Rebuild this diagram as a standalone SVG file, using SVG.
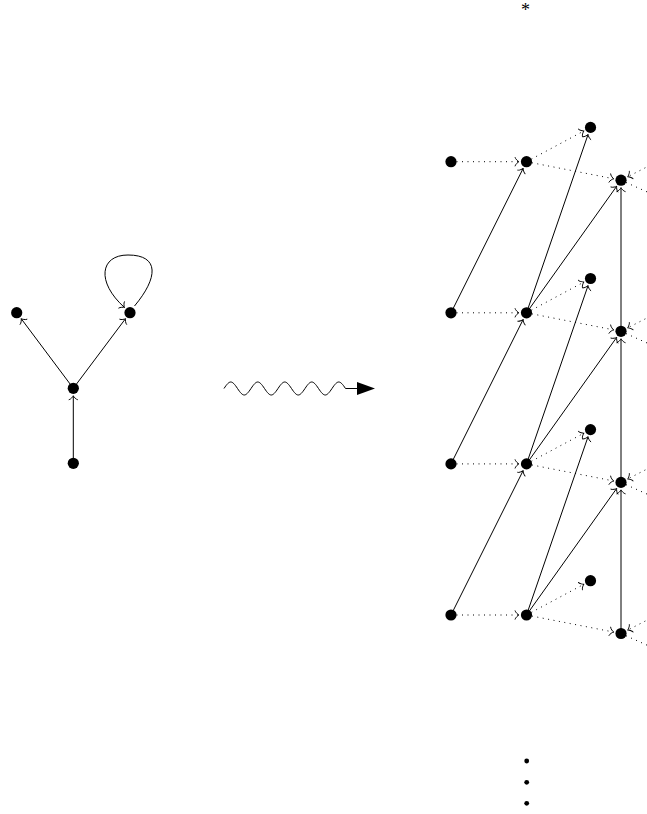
<svg xmlns="http://www.w3.org/2000/svg" width="647" height="814" viewBox="0 0 647 814">
<style>
.edge{fill:none;stroke:#000;stroke-width:1}
.dot{fill:none;stroke:#000;stroke-width:1;stroke-dasharray:1 4.5}
.node{fill:#000}
.ar{marker-end:url(#to)}
</style>
<defs>
<marker id="to" markerUnits="userSpaceOnUse" markerWidth="12" markerHeight="12" viewBox="-6 -6 12 12" refX="0" refY="0" orient="auto" overflow="visible">
<path d="M -3.94 4.2 C -3.68 2.63 -0.79 0.26 0 0 C -0.79 -0.26 -3.68 -2.63 -3.94 -4.2" fill="none" stroke="#000" stroke-width="0.9" stroke-dasharray="none" stroke-linecap="round" stroke-linejoin="round"/>
</marker>
</defs>
<rect width="647" height="814" fill="#fff"/>
<g id="connectors">
<path class="edge ar" d="M73.3 463.3 L73.3 395.8"/>
<path class="edge ar" d="M73.3 388.3 L21.2 318.7"/>
<path class="edge ar" d="M73.3 388.3 L125.5 318.7"/>
<path class="edge ar" d="M134.5 306 C158 278 160 255 128 255 C100 255 96 282 124.5 307.5"/>
<path class="edge" d="M224 388.5 c5.73 -8.67 7.77 -8.67 13.5 0 c5.73 8.67 7.77 8.67 13.5 0 c5.73 -8.67 7.77 -8.67 13.5 0 c5.73 8.67 7.77 8.67 13.5 0 c5.73 -8.67 7.77 -8.67 13.5 0 c5.73 8.67 7.77 8.67 13.5 0 c5.73 -8.67 7.77 -8.67 13.5 0 c5.73 8.67 7.77 8.67 13.5 0 c5.73 -8.67 7.77 -8.67 13.5 0 H358"/>
<path d="M357 382 L375 388.5 L357 395 Z" fill="#000"/>
<path class="dot ar" d="M451 161.7 H519"/>
<path class="dot ar" d="M451 312.8 H519"/>
<path class="dot ar" d="M451 463.9 H519"/>
<path class="dot ar" d="M451 615 H519"/>
<path class="dot ar" d="M526.5 161.7 L583.9 130.94"/>
<path class="dot ar" d="M526.5 312.8 L583.9 282.04"/>
<path class="dot ar" d="M526.5 463.9 L583.9 433.14"/>
<path class="dot ar" d="M526.5 615 L583.9 584.24"/>
<path class="dot ar" d="M526.5 161.7 L613.64 178.76"/>
<path class="dot ar" d="M526.5 312.8 L613.64 329.86"/>
<path class="dot ar" d="M526.5 463.9 L613.64 480.96"/>
<path class="dot ar" d="M526.5 615 L613.64 632.06"/>
<path class="dot ar" d="M660 160.2 L627.68 176.78"/>
<path class="dot ar" d="M660 311.3 L627.68 327.88"/>
<path class="dot ar" d="M660 462.4 L627.68 478.98"/>
<path class="dot ar" d="M660 613.5 L627.68 630.08"/>
<path class="dot" d="M621 180.2 L660 197.7"/>
<path class="dot" d="M621 331.3 L660 348.8"/>
<path class="dot" d="M621 482.4 L660 499.9"/>
<path class="dot" d="M621 633.5 L660 651"/>
<path class="edge ar" d="M451 312.8 L523.15 168.41"/>
<path class="edge ar" d="M451 463.9 L523.15 319.51"/>
<path class="edge ar" d="M451 615 L523.15 470.61"/>
<path class="edge ar" d="M526.5 312.8 L588.05 134.49"/>
<path class="edge ar" d="M526.5 463.9 L588.05 285.59"/>
<path class="edge ar" d="M526.5 615 L588.05 436.69"/>
<path class="edge ar" d="M526.5 312.8 L616.65 186.31"/>
<path class="edge ar" d="M526.5 463.9 L616.65 337.41"/>
<path class="edge ar" d="M526.5 615 L616.65 488.51"/>
<path class="edge ar" d="M621 331.3 L621 187.7"/>
<path class="edge ar" d="M621 482.4 L621 338.8"/>
<path class="edge ar" d="M621 633.5 L621 489.9"/>
</g>
<g id="left-nodes">
<g id="l1"><circle class="node" cx="16.7" cy="312.7" r="5.6"/></g>
<g id="l2"><circle class="node" cx="130" cy="312.7" r="5.6"/></g>
<g id="l3"><circle class="node" cx="73.3" cy="388.3" r="5.6"/></g>
<g id="l4"><circle class="node" cx="73.3" cy="463.3" r="5.6"/></g>
</g>
<g id="right-nodes">
<g id="a0"><circle class="node" cx="451" cy="161.7" r="5.6"/></g>
<g id="b0"><circle class="node" cx="526.5" cy="161.7" r="5.6"/></g>
<g id="c0"><circle class="node" cx="590.5" cy="127.4" r="5.6"/></g>
<g id="d0"><circle class="node" cx="621" cy="180.2" r="5.6"/></g>
<g id="a1"><circle class="node" cx="451" cy="312.8" r="5.6"/></g>
<g id="b1"><circle class="node" cx="526.5" cy="312.8" r="5.6"/></g>
<g id="c1"><circle class="node" cx="590.5" cy="278.5" r="5.6"/></g>
<g id="d1"><circle class="node" cx="621" cy="331.3" r="5.6"/></g>
<g id="a2"><circle class="node" cx="451" cy="463.9" r="5.6"/></g>
<g id="b2"><circle class="node" cx="526.5" cy="463.9" r="5.6"/></g>
<g id="c2"><circle class="node" cx="590.5" cy="429.6" r="5.6"/></g>
<g id="d2"><circle class="node" cx="621" cy="482.4" r="5.6"/></g>
<g id="a3"><circle class="node" cx="451" cy="615" r="5.6"/></g>
<g id="b3"><circle class="node" cx="526.5" cy="615" r="5.6"/></g>
<g id="c3"><circle class="node" cx="590.5" cy="580.7" r="5.6"/></g>
<g id="d3"><circle class="node" cx="621" cy="633.5" r="5.6"/></g>
</g>
<g id="star"><text x="525.5" y="15.5" font-family="'Liberation Serif', serif" font-size="18" text-anchor="middle">*</text></g>
<g id="vdots">
<circle class="node" cx="526.7" cy="761" r="2.4"/>
<circle class="node" cx="526.7" cy="782.3" r="2.4"/>
<circle class="node" cx="526.7" cy="803.3" r="2.4"/>
</g>
</svg>
